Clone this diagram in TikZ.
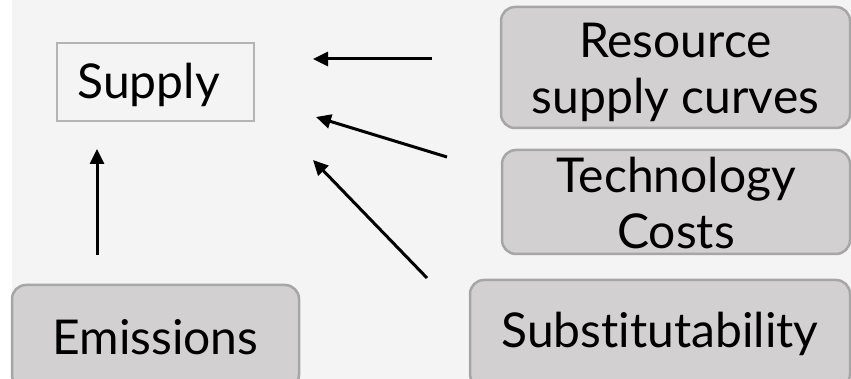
\documentclass[tikz,border=0pt]{standalone}
\usepackage{fontspec}
\setmainfont{Lato}[Ligatures = NoCommon]
\usetikzlibrary{arrows.meta}
\definecolor{bggray}{RGB}{244,244,244}
\definecolor{boxgray}{RGB}{210,208,209}
\definecolor{edgegray}{RGB}{166,166,166}
\definecolor{thingray}{RGB}{180,180,180}

\begin{document}
\begin{tikzpicture} [x = 1pt, y = -1pt,
  factor/.style = {draw = edgegray, line width = 2.5pt, fill = boxgray, rounded corners = 14pt, inner sep = 0pt, align = center},
  target/.style = {draw = thingray, line width = 1.5pt, fill = bggray, inner sep = 0pt},
  feed/.style = {-{Triangle[length = 15pt, width = 14pt]}, line width = 3pt},
  font = \fontsize{48}{56}\selectfont]
\useasboundingbox (0,0) rectangle (851,379);
\fill[white] (0,0) rectangle (851,379);
\fill[bggray] (12,0) rectangle (851,379);
\begin{scope}
\clip (0,0) rectangle (851,379);
\node[target, minimum width = 197pt, minimum height = 78pt] (supply) at (155.5,82) {\hspace*{-14pt}\raisebox{-3pt}[\height][\depth]{Supply}};
\node[factor, minimum width = 349pt, minimum height = 121pt] (res) at (675.5,67.5) {\rule{0pt}{44pt}Resource\\supply curves};
\node[factor, minimum width = 348pt, minimum height = 104pt] (tech) at (676,202) {\rule{0pt}{37pt}Technology\\Costs};
\node[factor, minimum width = 380pt, minimum height = 108pt] (subst) at (660,334) {Substitutability};
\node[factor, minimum width = 287pt, minimum height = 104pt] (emis) at (155.5,337) {Emissions};
\end{scope}
\coordinate (r1) at (432,59);
\coordinate (s1) at (313,59);
\coordinate (t1) at (447,157);
\coordinate (s2) at (316,117);
\coordinate (u1) at (427,278);
\coordinate (s3) at (313,160);
\coordinate (e1) at (97,255);
\coordinate (s4) at (97,149);
\draw[feed] (r1) -- (s1);
\draw[feed] (t1) -- (s2);
\draw[feed] (u1) -- (s3);
\draw[feed] (e1) -- (s4);
\end{tikzpicture}
\end{document}
